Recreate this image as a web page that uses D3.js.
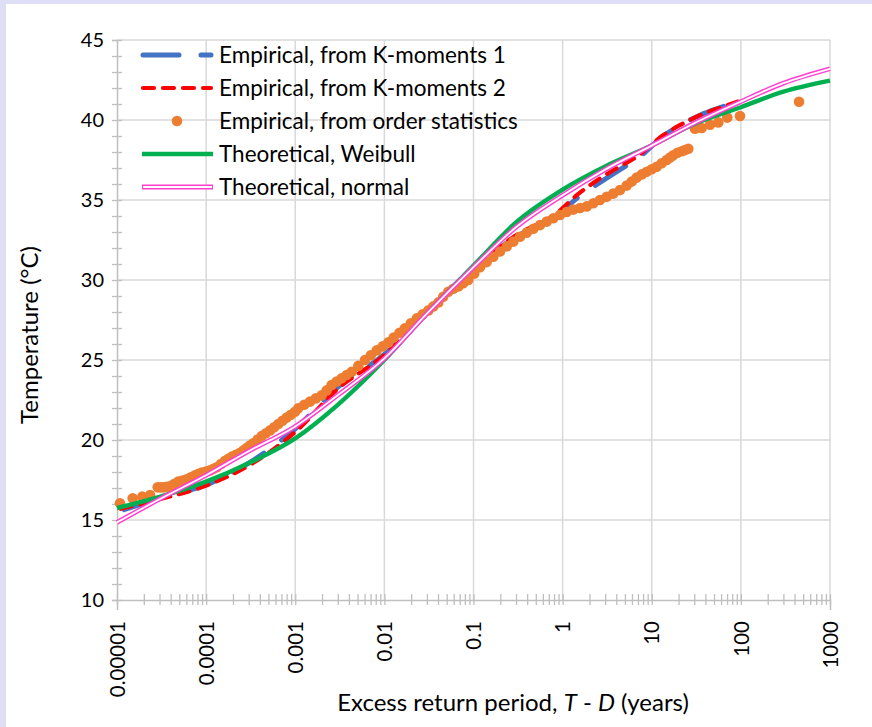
<!DOCTYPE html>
<html><head><meta charset="utf-8">
<script src="https://cdn.jsdelivr.net/npm/d3@7"></script>
<style>
html,body{margin:0;padding:0;background:#dedff7;}
svg{display:block;}
</style></head><body>
<svg id="c" width="872" height="727"></svg>
<script>
// ---------- data ----------
const kmom1T = [1.2e-5, 3e-5, 1e-4, 3e-4, 1e-3, 3e-3, 0.01, 0.03, 0.1, 0.3, 0.858, 1.44, 2.63, 4.4, 6.78, 13.5, 24.7, 34.8, 53.6, 95];
const kmom1Y = [15.65, 16.35, 17.2, 18.55, 20.7, 23.3, 25.35, 27.95, 30.75, 32.7, 34.0, 35.1, 36.1, 36.9, 37.55, 39.0, 39.9, 40.3, 40.7, 41.15];
const kmom2T = [1.1e-5, 3e-5, 1e-4, 3e-4, 1e-3, 3e-3, 0.01, 0.03, 0.1, 0.3, 0.858, 1.44, 2.63, 4.4, 6.78, 13.5, 24.7, 34.8, 53.6, 92.8];
const kmom2Y = [15.7, 16.3, 17.15, 18.4, 20.5, 23.2, 25.3, 27.9, 30.7, 32.8, 34.17, 35.3, 36.35, 37.1, 37.7, 39.06, 39.9, 40.3, 40.7, 41.15];
const orderT = [1.08e-5, 1.5e-5, 1.92e-5, 2.35e-5, 2.86e-5, 3.08e-5, 3.31e-5, 3.61e-5, 3.93e-5, 4.37e-5, 4.87e-5,
  5.43e-5, 6.05e-5, 6.74e-5, 7.5e-5, 8.18e-5, 8.92e-5, 9.93e-5, 1.105e-4, 1.205e-4, 1.315e-4, 1.464e-4, 1.63e-4,
  1.78e-4, 1.94e-4, 2.16e-4, 2.4e-4, 2.62e-4, 2.85e-4, 3.1e-4, 3.38e-4, 3.77e-4, 4.2e-4, 4.68e-4, 5.21e-4,
  5.8e-4, 6.45e-4, 7.19e-4, 8.02e-4, 8.93e-4, 9.94e-4, 1.082e-3, 1.26e-3, 1.464e-3, 1.7e-3, 1.98e-3, 2.25e-3,
  2.56e-3, 2.92e-3, 3.32e-3, 3.78e-3, 4.3e-3, 5.1e-3, 6.06e-3, 7.05e-3, 8.2e-3, 9.53e-3, 1.107e-2, 1.27e-2,
  1.48e-2, 1.7e-2, 1.98e-2, 2.31e-2, 2.68e-2, 3.11e-2, 3.54e-2, 4.03e-2, 4.58e-2, 5.21e-2, 5.93e-2, 6.75e-2,
  7.68e-2, 8.74e-2, 0.102, 0.1183, 0.1405, 0.1668, 0.1983, 0.2358, 0.28, 0.3324, 0.395, 0.469, 0.558, 0.663,
  0.787, 0.934, 1.11, 1.318, 1.567, 1.863, 2.21, 2.627, 3.12, 3.704, 4.4, 5.235, 5.96, 6.78, 7.72, 8.78, 9.99,
  11.36, 12.93, 14.72, 16.03, 17.45, 19.45, 21.69, 23.6, 25.71, 30.57, 36.35, 45.04, 55.8, 70.4, 97.8, 449];
const orderY = [16.04, 16.36, 16.46, 16.56, 17.04, 17.04, 17.04, 17.07, 17.1, 17.25, 17.4,
  17.47, 17.54, 17.67, 17.8, 17.88, 17.96, 18.03, 18.1, 18.2, 18.3, 18.5, 18.7,
  18.83, 18.96, 19.08, 19.2, 19.35, 19.5, 19.65, 19.8, 20.02, 20.25, 20.42, 20.6,
  20.8, 21.0, 21.2, 21.4, 21.58, 21.77, 21.98, 22.2, 22.4, 22.6, 22.8, 23.1,
  23.44, 23.65, 23.86, 24.06, 24.27, 24.63, 25.0, 25.3, 25.6, 25.85, 26.1, 26.4,
  26.7, 26.98, 27.3, 27.6, 27.85, 28.1, 28.35, 28.6, 28.95, 29.27, 29.45, 29.6,
  29.8, 30.0, 30.4, 30.8, 31.12, 31.45, 31.78, 32.1, 32.4, 32.7, 32.95, 33.2, 33.43, 33.65,
  33.86, 34.06, 34.25, 34.4, 34.5, 34.6, 34.8, 35.0, 35.2, 35.4, 35.62, 35.9, 36.15, 36.4, 36.6, 36.77, 36.92,
  37.08, 37.3, 37.5, 37.65, 37.8, 37.95, 38.05, 38.12, 38.2, 39.45, 39.5, 39.7, 39.85, 40.15, 40.25, 41.14];
const weibullT = [1e-5, 3e-5, 1e-4, 3e-4, 1e-3, 3e-3, 0.01, 0.03, 0.1, 0.3, 1, 3, 10, 30, 100, 300, 1000];
const weibullY = [15.75, 16.45, 17.4, 18.55, 20.1, 22.2, 25.0, 27.9, 30.9, 33.6, 35.65, 37.1, 38.4, 39.75, 40.8, 41.77, 42.46];
const normalT = [1e-5, 3e-5, 1e-4, 3e-4, 1e-3, 3e-3, 0.01, 0.03, 0.1, 0.3, 1, 3, 10, 30, 100, 300, 1000];
const normalY = [14.85, 16.3, 17.8, 19.3, 20.85, 22.8, 25.1, 27.9, 30.8, 33.3, 35.3, 36.9, 38.4, 39.8, 41.15, 42.3, 43.2];

const xTickValues = [1e-5, 1e-4, 1e-3, 1e-2, 1e-1, 1, 10, 100, 1000];
const xTickLabels = ["0.00001", "0.0001", "0.001", "0.01", "0.1", "1", "10", "100", "1000"];
const yTickValues = [10, 15, 20, 25, 30, 35, 40, 45];
const legendLabels = ["Empirical, from K-moments 1", "Empirical, from K-moments 2",
  "Empirical, from order statistics", "Theoretical, Weibull", "Theoretical, normal"];

// ---------- chart ----------
const svg = d3.select("#c");
const FONT = "Lato, 'Open Sans', sans-serif";
svg.append("rect").attr("x", 6).attr("y", 4).attr("width", 866).attr("height", 723).attr("fill", "#fff");

const x = d3.scaleLog().domain([1e-5, 1000]).range([117, 830]);
const y = d3.scaleLinear().domain([10, 45]).range([600, 40]);

const gridC = "#d9d9d9", axisC = "#bfbfbf";
// gridlines
svg.append("g").selectAll("line").data(xTickValues.slice(1)).join("line")
  .attr("x1", d => x(d)).attr("x2", d => x(d)).attr("y1", y(45)).attr("y2", y(10))
  .attr("stroke", gridC).attr("stroke-width", 1.5);
svg.append("g").selectAll("line").data(yTickValues.slice(1)).join("line")
  .attr("x1", x(1e-5)).attr("x2", x(1000)).attr("y1", d => y(d)).attr("y2", d => y(d))
  .attr("stroke", gridC).attr("stroke-width", 1.5);

// minor ticks values
const xMinor = [];
xTickValues.forEach((d, i) => { if (i < xTickValues.length - 1) for (let k = 1; k <= 9; k++) xMinor.push(d * k); });
xMinor.push(1000);
const yMinor = d3.range(10, 46, 1);

// x axis (ticks crossing)
const gx = svg.append("g").attr("transform", `translate(0,${y(10)})`)
  .call(d3.axisBottom(x).tickValues(xMinor).tickSize(10).tickFormat(""));
gx.select(".domain").attr("stroke", axisC).attr("stroke-width", 1.5);
gx.selectAll(".tick line").attr("stroke", axisC).attr("stroke-width", 1.3).attr("y1", -6).attr("y2", 5);

// y axis
const gy = svg.append("g").attr("transform", `translate(${x(1e-5)},0)`)
  .call(d3.axisLeft(y).tickValues(yMinor).tickSize(5).tickFormat(""));
gy.select(".domain").attr("stroke", axisC).attr("stroke-width", 1.5);
gy.selectAll(".tick line").attr("stroke", axisC).attr("stroke-width", 1.3).attr("x1", -5).attr("x2", 5);

// y labels
const gyl = svg.append("g").attr("transform", `translate(${x(1e-5)},0)`)
  .call(d3.axisLeft(y).tickValues(yTickValues).tickSize(0).tickPadding(13).tickFormat(d3.format("d")));
gyl.select(".domain").remove();
gyl.selectAll("text").attr("font-family", FONT).attr("font-size", 20).attr("fill", "#000");

// x labels rotated
const gxl = svg.append("g").attr("transform", `translate(0,${y(10)})`)
  .call(d3.axisBottom(x).tickValues(xTickValues).tickSize(0).tickFormat((d, i) => xTickLabels[i]));
gxl.select(".domain").remove();
gxl.selectAll("text").attr("font-family", FONT).attr("font-size", 20.5).attr("fill", "#000")
  .attr("text-anchor", "end").attr("dy", "0.35em").attr("y", 0)
  .attr("transform", "translate(0,21) rotate(-90)");

// axis titles
svg.append("text").attr("transform", "translate(38,335) rotate(-90)").attr("text-anchor", "middle")
  .attr("font-family", FONT).attr("font-size", 24).text("Temperature (°C)");
const xt = svg.append("text").attr("x", 513).attr("y", 711).attr("text-anchor", "middle")
  .attr("font-family", FONT).attr("font-size", 24);
xt.append("tspan").text("Excess return period, ");
xt.append("tspan").attr("font-style", "italic").text("T");
xt.append("tspan").text(" - ");
xt.append("tspan").attr("font-style", "italic").text("D");
xt.append("tspan").text(" (years)");

// series
const line = d3.line().x(d => x(d[0])).y(d => y(d[1])).curve(d3.curveMonotoneX);
const zip = (a, b) => a.map((v, i) => [v, b[i]]);
const plot = svg.append("g");
plot.append("path").datum(zip(kmom1T, kmom1Y)).attr("d", line).attr("fill", "none")
  .attr("stroke", "#4472c4").attr("stroke-width", 5).attr("stroke-linecap", "round").attr("stroke-dasharray", "36,22");
plot.append("path").datum(zip(kmom2T, kmom2Y)).attr("d", line).attr("fill", "none")
  .attr("stroke", "#ff0000").attr("stroke-width", 4.2).attr("stroke-linecap", "round").attr("stroke-dasharray", "11,9");
plot.append("g").selectAll("circle").data(zip(orderT, orderY)).join("circle")
  .attr("cx", d => x(d[0])).attr("cy", d => y(d[1])).attr("r", 5.3).attr("fill", "#ed7d31");
plot.append("path").datum(zip(weibullT, weibullY)).attr("d", line).attr("fill", "none")
  .attr("stroke", "#00b050").attr("stroke-width", 4.4);
plot.append("path").datum(zip(normalT, normalY)).attr("d", line).attr("fill", "none")
  .attr("stroke", "#ff3fcf").attr("stroke-width", 4.8);
plot.append("path").datum(zip(normalT, normalY)).attr("d", line).attr("fill", "none")
  .attr("stroke", "#fff").attr("stroke-width", 1.8);

// legend
const lg = svg.append("g");
const rowY = i => 55 + i * 33;
const lx0 = 141, lx1 = 213;
lg.append("line").attr("x1", lx0 + 2).attr("x2", lx1 - 2).attr("y1", rowY(0)).attr("y2", rowY(0))
  .attr("stroke", "#4472c4").attr("stroke-width", 5).attr("stroke-linecap", "round").attr("stroke-dasharray", "36,22");
lg.append("line").attr("x1", lx0 + 2).attr("x2", lx1 - 2).attr("y1", rowY(1)).attr("y2", rowY(1))
  .attr("stroke", "#ff0000").attr("stroke-width", 4.2).attr("stroke-linecap", "round").attr("stroke-dasharray", "11,9");
lg.append("circle").attr("cx", (lx0 + lx1) / 2).attr("cy", rowY(2)).attr("r", 5.3).attr("fill", "#ed7d31");
lg.append("line").attr("x1", lx0 + 1).attr("x2", lx1).attr("y1", rowY(3)).attr("y2", rowY(3))
  .attr("stroke", "#00b050").attr("stroke-width", 4.4);
lg.append("line").attr("x1", lx0 + 1).attr("x2", lx1).attr("y1", rowY(4)).attr("y2", rowY(4))
  .attr("stroke", "#ff3fcf").attr("stroke-width", 4.8);
lg.append("line").attr("x1", lx0 + 2).attr("x2", lx1 - 1).attr("y1", rowY(4)).attr("y2", rowY(4))
  .attr("stroke", "#fff").attr("stroke-width", 1.8);
lg.selectAll("text.lt").data(legendLabels).join("text").attr("class", "lt")
  .attr("x", 219).attr("y", (d, i) => rowY(i)).attr("dy", "0.35em")
  .attr("font-family", FONT).attr("font-size", 22.5).text(d => d);
</script>
</body></html>
